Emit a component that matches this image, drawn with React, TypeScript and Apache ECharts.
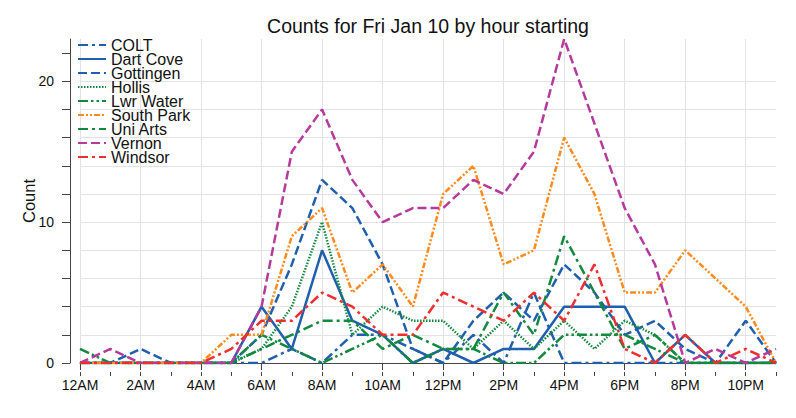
import React, { useEffect, useRef } from 'react';
import * as echarts from 'echarts';

const hours = ['12AM','1AM','2AM','3AM','4AM','5AM','6AM','7AM','8AM','9AM','10AM','11AM','12PM','1PM','2PM','3PM','4PM','5PM','6PM','7PM','8PM','9PM','10PM','11PM'];

const colt      = [0,0,0,0,0,0,0,1,0,2,2,1,0,2,0,5,0,0,0,0,0,0,0,0];
const dartCove  = [0,0,0,0,0,0,4,1,8,3,2,0,1,0,1,1,4,4,4,0,2,0,0,0];
const gottingen = [0,0,1,0,0,0,2,7,13,11,7,1,0,3,5,3,7,5,2,3,1,0,3,0];
const hollis    = [0,0,0,0,0,0,1,4,10,2,4,3,3,1,3,1,3,1,3,2,0,0,0,0];
const lwrWater  = [1,0,0,0,0,0,2,1,0,1,2,0,1,1,0,0,2,2,2,1,0,0,0,0];
const southPark = [0,0,0,0,0,2,2,9,11,5,7,4,12,14,7,8,16,12,5,5,8,6,4,0];
const uniArts   = [0,0,0,0,0,0,1,2,3,3,1,2,1,1,5,2,9,5,1,2,0,0,0,0];
const vernon    = [0,1,0,0,0,0,4,15,18,13,10,11,11,13,12,15,23,17,11,7,0,1,0,1];
const windsor   = [0,0,0,0,0,1,3,3,5,4,2,2,5,4,3,5,3,7,1,0,2,0,1,0];

const yTickValues = [0,2,4,6,8,10,12,14,16,18,20,22];
const yLabelValues = [0,10,20];

const BLUE = '#1f5fae';
const GREEN = '#13893f';
const ORANGE = '#ff8a1e';
const MAGENTA = '#b53a9c';
const RED = '#ee2f2d';

const seriesDefs: Array<{ name: string; data: number[]; color: string; dash: any }> = [
  { name: 'COLT', data: colt, color: BLUE, dash: [10, 4, 3, 4] },
  { name: 'Dart Cove', data: dartCove, color: BLUE, dash: 'solid' },
  { name: 'Gottingen', data: gottingen, color: BLUE, dash: [9, 4] },
  { name: 'Hollis', data: hollis, color: GREEN, dash: [1.5, 1.5] },
  { name: 'Lwr Water', data: lwrWater, color: GREEN, dash: [10, 3, 2.5, 3, 2.5, 3] },
  { name: 'South Park', data: southPark, color: ORANGE, dash: [6, 2, 2, 2, 2, 2] },
  { name: 'Uni Arts', data: uniArts, color: GREEN, dash: [10, 4, 3, 4] },
  { name: 'Vernon', data: vernon, color: MAGENTA, dash: [9, 4] },
  { name: 'Windsor', data: windsor, color: RED, dash: [10, 4, 3, 4] },
];

const FONT = 'Liberation Sans, Arial, Helvetica, sans-serif';
const AXIS = '#444';

export default function App() {
  const ref = useRef<HTMLDivElement>(null);
  useEffect(() => {
    if (!ref.current) return;
    const chart = echarts.init(ref.current, undefined, { renderer: 'svg' });
    chart.setOption({
      animation: false,
      backgroundColor: '#ffffff',
      title: {
        text: 'Counts for Fri Jan 10 by hour starting',
        left: 423,
        top: 11,
        textAlign: 'center',
        textStyle: { fontFamily: FONT, fontSize: 19.5, fontWeight: 'normal', color: '#111' },
      },
      legend: {
        orient: 'vertical',
        left: 77,
        top: 37,
        padding: 0,
        itemWidth: 28,
        itemHeight: 14,
        itemGap: -2,
        itemStyle: { opacity: 0 },
        textStyle: { fontFamily: FONT, fontSize: 16, color: '#111' },
        data: seriesDefs.map((s) => s.name),
      },
      grid: { left: 80, right: 20, top: 39, bottom: 55, containLabel: false },
      xAxis: [
        {
          type: 'category',
          data: hours,
          boundaryGap: false,
          position: 'bottom',
          offset: 9,
          axisLine: { show: true, lineStyle: { color: AXIS, width: 1 } },
          axisTick: { show: true, interval: 1, length: 7, lineStyle: { color: AXIS } },
          axisLabel: { interval: 1, margin: 6, fontFamily: FONT, fontSize: 14, color: '#111' },
          splitLine: { show: true, interval: 1, lineStyle: { color: '#e3e3e3', width: 1 } },
        },
        {
          type: 'category',
          data: hours,
          boundaryGap: false,
          position: 'bottom',
          offset: 9,
          axisLine: { show: false },
          axisTick: { show: true, interval: 0, length: 4, lineStyle: { color: AXIS } },
          axisLabel: { show: false },
          splitLine: { show: false },
        },
      ],
      yAxis: {
        type: 'value',
        min: 0,
        max: 23,
        interval: 10,
        offset: 10,
        name: 'Count',
        nameLocation: 'middle',
        nameGap: 33,
        nameMoveOverlap: false,
        nameTextStyle: { fontFamily: FONT, fontSize: 16.5, color: '#111' },
        axisLine: { show: true, lineStyle: { color: AXIS, width: 1 } },
        axisTick: { show: true, length: 8, customValues: yTickValues, lineStyle: { color: AXIS } },
        axisLabel: { customValues: yLabelValues, margin: 16, fontFamily: FONT, fontSize: 14, color: '#111' },
        splitLine: { show: true, showMaxLine: false, lineStyle: { color: '#e3e3e3', width: 1 } },
      },
      series: seriesDefs.map((s) => ({
        name: s.name,
        type: 'line',
        xAxisIndex: 0,
        data: s.data,
        symbol: 'none',
        color: s.color,
        lineStyle: { color: s.color, width: 2.5, type: s.dash },
      })),
    });
    return () => chart.dispose();
  }, []);
  return <div ref={ref} style={{ position: 'fixed', left: 0, top: 0, width: 796, height: 418 }} />;
}
